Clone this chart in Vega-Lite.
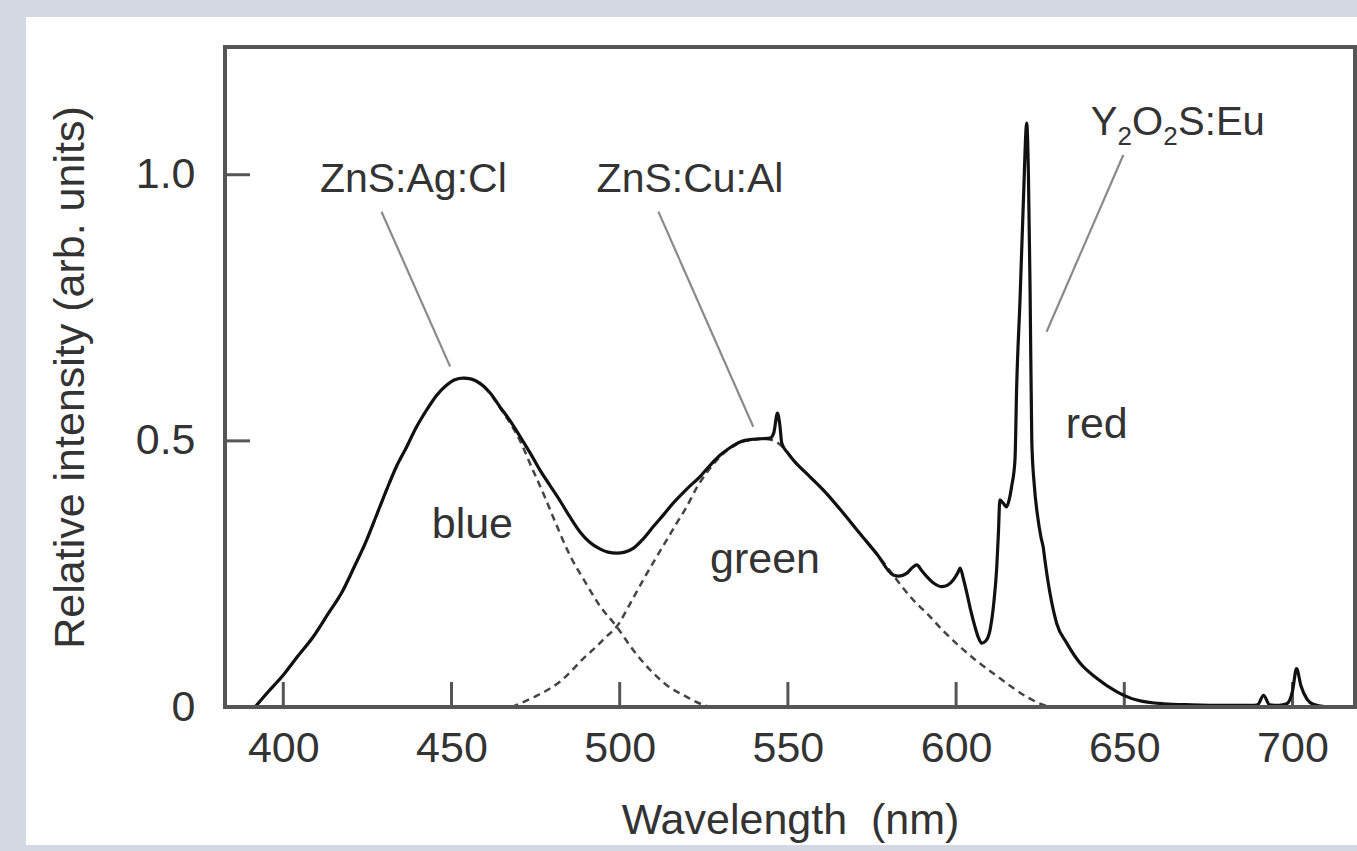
{
  "$schema": "https://vega.github.io/schema/vega-lite/v6.json",
  "width": 1130,
  "height": 660,
  "autosize": {"type": "none"},
  "padding": {"left": 225, "top": 47, "right": 2, "bottom": 144},
  "background": "#d3d8e2",
  "config": {
    "view": {"stroke": null},
    "font": "Liberation Sans",
    "text": {"font": "Liberation Sans", "color": "#333333"}
  },
  "datasets": {
    "spectrum": [
      {"wl": 391.6, "I": 0.0}, {"wl": 395, "I": 0.025}, {"wl": 400, "I": 0.06}, {"wl": 404, "I": 0.093},
      {"wl": 408.9, "I": 0.132}, {"wl": 413, "I": 0.172}, {"wl": 417.8, "I": 0.22}, {"wl": 421, "I": 0.262},
      {"wl": 424.8, "I": 0.314}, {"wl": 428, "I": 0.365}, {"wl": 430.7, "I": 0.408}, {"wl": 433.5, "I": 0.45},
      {"wl": 436.7, "I": 0.489}, {"wl": 439.5, "I": 0.525}, {"wl": 442.6, "I": 0.558}, {"wl": 445.5, "I": 0.585},
      {"wl": 448.6, "I": 0.605}, {"wl": 451, "I": 0.615}, {"wl": 453.5, "I": 0.618}, {"wl": 456, "I": 0.616},
      {"wl": 458.5, "I": 0.608}, {"wl": 461.5, "I": 0.59}, {"wl": 464.4, "I": 0.564}, {"wl": 467.5, "I": 0.537},
      {"wl": 470.4, "I": 0.508}, {"wl": 473.5, "I": 0.476}, {"wl": 476.3, "I": 0.445}, {"wl": 479.3, "I": 0.416},
      {"wl": 482.3, "I": 0.387}, {"wl": 485.2, "I": 0.357}, {"wl": 488.2, "I": 0.329}, {"wl": 491, "I": 0.31},
      {"wl": 494.1, "I": 0.297}, {"wl": 496.5, "I": 0.291}, {"wl": 499.1, "I": 0.289}, {"wl": 501.5, "I": 0.291},
      {"wl": 504, "I": 0.298}, {"wl": 507, "I": 0.316}, {"wl": 510, "I": 0.339}, {"wl": 513, "I": 0.361},
      {"wl": 515.9, "I": 0.383}, {"wl": 520, "I": 0.41}, {"wl": 523.9, "I": 0.433}, {"wl": 527, "I": 0.455},
      {"wl": 529.8, "I": 0.473}, {"wl": 533, "I": 0.488}, {"wl": 535.8, "I": 0.498}, {"wl": 539.7, "I": 0.503},
      {"wl": 542, "I": 0.504}, {"wl": 544.7, "I": 0.505}, {"wl": 545.8, "I": 0.515}, {"wl": 546.9, "I": 0.552},
      {"wl": 547.6, "I": 0.53}, {"wl": 548.2, "I": 0.495}, {"wl": 550, "I": 0.477}, {"wl": 551.6, "I": 0.464},
      {"wl": 556.5, "I": 0.433}, {"wl": 561.5, "I": 0.401}, {"wl": 566.5, "I": 0.364}, {"wl": 571.4, "I": 0.326},
      {"wl": 576.5, "I": 0.287}, {"wl": 581.3, "I": 0.248}, {"wl": 583, "I": 0.246}, {"wl": 585.3, "I": 0.251},
      {"wl": 587, "I": 0.262}, {"wl": 588.3, "I": 0.267}, {"wl": 589.8, "I": 0.256}, {"wl": 591.3, "I": 0.245},
      {"wl": 593.5, "I": 0.232}, {"wl": 595.7, "I": 0.226}, {"wl": 597.5, "I": 0.229}, {"wl": 599.2, "I": 0.239},
      {"wl": 600.5, "I": 0.252}, {"wl": 601.2, "I": 0.261}, {"wl": 602.2, "I": 0.24}, {"wl": 603.2, "I": 0.214},
      {"wl": 604.4, "I": 0.18}, {"wl": 605.6, "I": 0.151}, {"wl": 606.6, "I": 0.131}, {"wl": 607.6, "I": 0.12},
      {"wl": 608.8, "I": 0.124}, {"wl": 610.1, "I": 0.145}, {"wl": 611.2, "I": 0.195}, {"wl": 612.1, "I": 0.264},
      {"wl": 612.6, "I": 0.33}, {"wl": 613, "I": 0.389}, {"wl": 614, "I": 0.383}, {"wl": 615, "I": 0.376},
      {"wl": 615.8, "I": 0.39}, {"wl": 616.5, "I": 0.414}, {"wl": 617.5, "I": 0.464}, {"wl": 618, "I": 0.6},
      {"wl": 619, "I": 0.765}, {"wl": 620, "I": 0.95}, {"wl": 621, "I": 1.097}, {"wl": 621.5, "I": 1.0},
      {"wl": 622, "I": 0.78}, {"wl": 622.5, "I": 0.5}, {"wl": 623.2, "I": 0.42}, {"wl": 624.2, "I": 0.36},
      {"wl": 625.2, "I": 0.32}, {"wl": 625.9, "I": 0.3}, {"wl": 626.4, "I": 0.276}, {"wl": 627.9, "I": 0.214},
      {"wl": 629.9, "I": 0.157}, {"wl": 632.9, "I": 0.12}, {"wl": 636.9, "I": 0.082}, {"wl": 641.8, "I": 0.054},
      {"wl": 647.7, "I": 0.029}, {"wl": 653.7, "I": 0.013}, {"wl": 661.6, "I": 0.006}, {"wl": 670, "I": 0.004},
      {"wl": 680, "I": 0.003}, {"wl": 688, "I": 0.003}, {"wl": 689.6, "I": 0.004}, {"wl": 691.4, "I": 0.022},
      {"wl": 693.2, "I": 0.004}, {"wl": 696, "I": 0.003}, {"wl": 698.3, "I": 0.006}, {"wl": 700, "I": 0.03},
      {"wl": 701.2, "I": 0.072}, {"wl": 702.5, "I": 0.04}, {"wl": 704.3, "I": 0.015}, {"wl": 706.2, "I": 0.005},
      {"wl": 710.2, "I": 0.0}
    ],
    "blue": [
      {"wl": 391.6, "I": 0.0}, {"wl": 395, "I": 0.025}, {"wl": 400, "I": 0.06}, {"wl": 404, "I": 0.093},
      {"wl": 408.9, "I": 0.132}, {"wl": 413, "I": 0.172}, {"wl": 417.8, "I": 0.22}, {"wl": 421, "I": 0.262},
      {"wl": 424.8, "I": 0.314}, {"wl": 428, "I": 0.365}, {"wl": 430.7, "I": 0.408}, {"wl": 433.5, "I": 0.45},
      {"wl": 436.7, "I": 0.489}, {"wl": 439.5, "I": 0.525}, {"wl": 442.6, "I": 0.558}, {"wl": 445.5, "I": 0.585},
      {"wl": 448.6, "I": 0.605}, {"wl": 451, "I": 0.615}, {"wl": 453.5, "I": 0.618}, {"wl": 456, "I": 0.616},
      {"wl": 458.5, "I": 0.607}, {"wl": 461.5, "I": 0.589}, {"wl": 464.4, "I": 0.562}, {"wl": 467.5, "I": 0.533},
      {"wl": 470.4, "I": 0.5}, {"wl": 473.5, "I": 0.455}, {"wl": 477.3, "I": 0.401}, {"wl": 481, "I": 0.345},
      {"wl": 485.2, "I": 0.285}, {"wl": 490.2, "I": 0.23}, {"wl": 494.1, "I": 0.19}, {"wl": 499.1, "I": 0.151},
      {"wl": 504, "I": 0.107}, {"wl": 509, "I": 0.07}, {"wl": 514, "I": 0.041}, {"wl": 519.9, "I": 0.019},
      {"wl": 524.4, "I": 0.005}, {"wl": 527, "I": 0.0}
    ],
    "green": [
      {"wl": 467.9, "I": 0.0}, {"wl": 474.3, "I": 0.018}, {"wl": 478, "I": 0.03}, {"wl": 482.3, "I": 0.048},
      {"wl": 486, "I": 0.07}, {"wl": 489, "I": 0.09}, {"wl": 493, "I": 0.113}, {"wl": 496, "I": 0.132},
      {"wl": 499.1, "I": 0.151}, {"wl": 503, "I": 0.193}, {"wl": 507, "I": 0.239}, {"wl": 510.5, "I": 0.277},
      {"wl": 514, "I": 0.314}, {"wl": 517, "I": 0.346}, {"wl": 519.9, "I": 0.376}, {"wl": 522.9, "I": 0.412},
      {"wl": 525.5, "I": 0.437}, {"wl": 529.8, "I": 0.47}, {"wl": 533, "I": 0.487}, {"wl": 535.8, "I": 0.497},
      {"wl": 539.7, "I": 0.502}, {"wl": 542.5, "I": 0.504}, {"wl": 545, "I": 0.502}, {"wl": 548.2, "I": 0.49},
      {"wl": 550, "I": 0.477}, {"wl": 551.6, "I": 0.464}, {"wl": 556.5, "I": 0.433}, {"wl": 561.5, "I": 0.401},
      {"wl": 566.5, "I": 0.364}, {"wl": 571.4, "I": 0.326}, {"wl": 576.5, "I": 0.287}, {"wl": 581.3, "I": 0.248},
      {"wl": 584.3, "I": 0.223}, {"wl": 588, "I": 0.196}, {"wl": 591.3, "I": 0.176}, {"wl": 596, "I": 0.144},
      {"wl": 601.2, "I": 0.113}, {"wl": 606, "I": 0.087}, {"wl": 611.1, "I": 0.063}, {"wl": 616, "I": 0.04},
      {"wl": 621, "I": 0.019}, {"wl": 624, "I": 0.009}, {"wl": 626.4, "I": 0.003}, {"wl": 628, "I": 0.0}
    ],
    "leaders": [
      {"wl": 429.2, "I": 0.9306, "wl2": 449.6, "I2": 0.6394},
      {"wl": 511.5, "I": 0.9306, "wl2": 539.7, "I2": 0.5266},
      {"wl": 649.7, "I": 1.0371, "wl2": 626.9, "I2": 0.7051}
    ],
    "bands": [
      {"wl": 456.2, "I": 0.317, "text": "blue"},
      {"wl": 543.2, "I": 0.251, "text": "green"},
      {"wl": 641.8, "I": 0.505, "text": "red"}
    ],
    "phosphors": [
      {"wl": 438.65, "I": 0.968, "text": "ZnS:Ag:Cl"},
      {"wl": 520.9, "I": 0.968, "text": "ZnS:Cu:Al"}
    ],
    "formula": [
      {"wl": 640.0, "I": 1.0747, "text": "Y"},
      {"wl": 652.3, "I": 1.0747, "text": "O"},
      {"wl": 666.0, "I": 1.0747, "text": "S:Eu"}
    ],
    "subscripts": [
      {"wl": 648.0, "I": 1.0559, "text": "2"},
      {"wl": 661.6, "I": 1.0559, "text": "2"}
    ],
    "xticks": [
      {"wl": 400, "I": 0, "I2": 0.047}, {"wl": 450, "I": 0, "I2": 0.047}, {"wl": 500, "I": 0, "I2": 0.047},
      {"wl": 550, "I": 0, "I2": 0.047}, {"wl": 600, "I": 0, "I2": 0.047}, {"wl": 650, "I": 0, "I2": 0.047},
      {"wl": 700, "I": 0, "I2": 0.047}
    ],
    "yticks": [
      {"wl": 382.67, "wl2": 390.1, "I": 0.5}, {"wl": 382.67, "wl2": 390.1, "I": 1.0}
    ],
    "panel": [
      {"wl": 323.5, "wl2": 740, "I": -0.2593, "I2": 1.2964}
    ],
    "frame": [
      {"wl": 382.67, "wl2": 718.58, "I": 0, "I2": 1.24}
    ]
  },
  "encoding": {
    "x": {
      "field": "wl",
      "type": "quantitative",
      "scale": {"domain": [382.67, 718.58], "nice": false, "zero": false},
      "axis": {
        "title": "Wavelength\u00a0 (nm)",
        "values": [400, 450, 500, 550, 600, 650, 700],
        "grid": false,
        "domain": false,
        "ticks": false,
        "zindex": 1,
        "labelFontSize": 43,
        "labelColor": "#333333",
        "labelPadding": 20,
        "labelFlush": false,
        "labelOverlap": false,
        "titleFontSize": 43,
        "titleFontWeight": "normal",
        "titleColor": "#333333",
        "titlePadding": 29
      }
    },
    "y": {
      "field": "I",
      "type": "quantitative",
      "scale": {"domain": [0, 1.24], "nice": false},
      "axis": {
        "title": "Relative intensity (arb. units)",
        "values": [0, 0.5, 1.0],
        "labelExpr": "datum.value == 0 ? '0' : format(datum.value, '.1f')",
        "grid": false,
        "domain": false,
        "ticks": false,
        "zindex": 1,
        "labelFontSize": 43,
        "labelColor": "#333333",
        "labelPadding": 30,
        "labelFlush": false,
        "labelOverlap": false,
        "titleFontSize": 43,
        "titleFontWeight": "normal",
        "titleColor": "#333333",
        "titlePadding": 43
      }
    }
  },
  "layer": [
    {
      "data": {"name": "panel"},
      "mark": {"type": "rect", "fill": "#ffffff", "clip": false},
      "encoding": {"x2": {"field": "wl2"}, "y2": {"field": "I2"}}
    },
    {
      "data": {"name": "xticks"},
      "mark": {"type": "rule", "color": "#555555", "strokeWidth": 3},
      "encoding": {"y2": {"field": "I2"}}
    },
    {
      "data": {"name": "yticks"},
      "mark": {"type": "rule", "color": "#555555", "strokeWidth": 3},
      "encoding": {"x2": {"field": "wl2"}}
    },
    {
      "data": {"name": "blue"},
      "mark": {"type": "line", "interpolate": "monotone", "color": "#444444", "strokeWidth": 2.5, "strokeDash": [7, 5]}
    },
    {
      "data": {"name": "green"},
      "mark": {"type": "line", "interpolate": "monotone", "color": "#444444", "strokeWidth": 2.5, "strokeDash": [7, 5]}
    },
    {
      "data": {"name": "spectrum"},
      "mark": {"type": "line", "interpolate": "monotone", "color": "#111111", "strokeWidth": 3.2}
    },
    {
      "data": {"name": "leaders"},
      "mark": {"type": "rule", "color": "#8a8a8a", "strokeWidth": 2.2},
      "encoding": {"x2": {"field": "wl2"}, "y2": {"field": "I2"}}
    },
    {
      "data": {"name": "bands"},
      "mark": {"type": "text", "fontSize": 43, "align": "center", "baseline": "alphabetic"},
      "encoding": {"text": {"field": "text"}}
    },
    {
      "data": {"name": "phosphors"},
      "mark": {"type": "text", "fontSize": 41, "align": "center", "baseline": "alphabetic"},
      "encoding": {"text": {"field": "text"}}
    },
    {
      "data": {"name": "formula"},
      "mark": {"type": "text", "fontSize": 40, "align": "left", "baseline": "alphabetic"},
      "encoding": {"text": {"field": "text"}}
    },
    {
      "data": {"name": "subscripts"},
      "mark": {"type": "text", "fontSize": 26, "align": "left", "baseline": "alphabetic"},
      "encoding": {"text": {"field": "text"}}
    },
    {
      "data": {"name": "frame"},
      "mark": {"type": "rect", "filled": false, "stroke": "#555555", "strokeWidth": 4},
      "encoding": {"x2": {"field": "wl2"}, "y2": {"field": "I2"}}
    }
  ]
}
